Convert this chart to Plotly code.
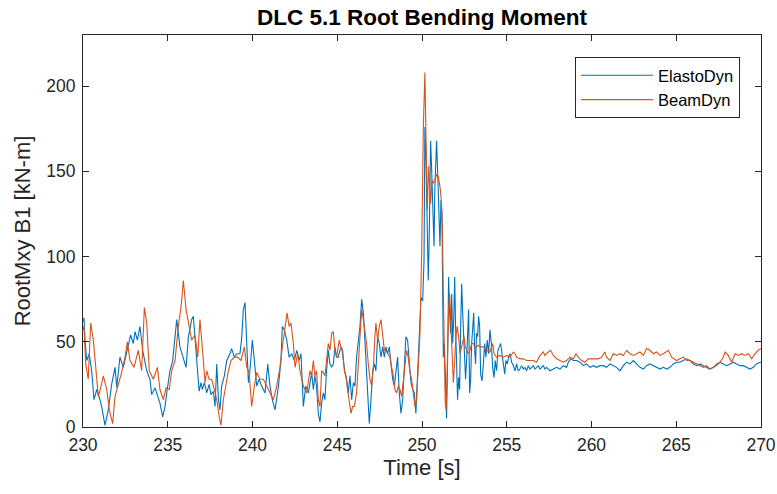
import plotly.graph_objects as go

# ElastoDyn (blue) series
time_elasto = [
    230.00, 230.06, 230.12, 230.22, 230.37, 230.51, 230.65, 230.81, 231.00, 231.10, 231.30, 231.49, 231.69, 231.89, 231.99,
    232.18, 232.38, 232.58, 232.81, 232.97, 233.07, 233.21, 233.36, 233.52, 233.76, 233.95, 234.05, 234.25, 234.54, 234.70,
    234.84, 234.94, 235.13, 235.29, 235.43, 235.53, 235.72, 235.92, 236.08, 236.22, 236.41, 236.51, 236.71,
    236.85, 236.96, 237.04, 237.16, 237.30, 237.44, 237.55, 237.69, 237.79, 237.89, 237.99, 238.08, 238.18, 238.34, 238.48,
    238.67, 238.77, 238.93, 239.07, 239.26, 239.36, 239.46, 239.56, 239.66, 239.76, 239.85, 239.99, 240.11, 240.25, 240.39,
    240.54, 240.74, 240.90, 241.03, 241.17, 241.33, 241.53, 241.68, 241.76, 241.88, 242.02, 242.16, 242.31, 242.47, 242.61,
    242.75, 242.86, 243.00, 243.14, 243.30,
    243.39, 243.49, 243.59, 243.68, 243.78, 243.88, 243.98, 244.08, 244.18, 244.27, 244.37, 244.47, 244.57, 244.67, 244.77,
    244.86, 244.96, 245.06, 245.16, 245.26, 245.36, 245.45, 245.55, 245.65, 245.75, 245.85, 245.95, 246.04, 246.14, 246.24,
    246.34, 246.44, 246.54, 246.63, 246.73, 246.83, 246.89, 246.99, 247.09, 247.19, 247.28, 247.38, 247.48, 247.58, 247.68,
    247.78, 247.87, 247.97, 248.07, 248.17, 248.27, 248.37, 248.46, 248.56, 248.66, 248.76, 248.86, 248.96, 249.05, 249.15,
    249.25, 249.35, 249.45, 249.55, 249.64, 249.74, 249.84, 249.94,
    250.04, 250.12, 250.17, 250.23, 250.31, 250.37, 250.43, 250.51, 250.57, 250.63, 250.71, 250.76, 250.86, 250.92, 251.00,
    251.06, 251.12, 251.18, 251.22, 251.26, 251.32, 251.37, 251.45, 251.51, 251.57, 251.63, 251.69, 251.75, 251.81, 251.87,
    251.93, 251.98, 252.04, 252.10, 252.16, 252.22, 252.28, 252.34, 252.40, 252.46, 252.52, 252.57, 252.63, 252.69, 252.75,
    252.81, 252.87, 252.93, 252.99, 253.05, 253.11, 253.16, 253.22, 253.28, 253.34, 253.40,
    253.46, 253.54, 253.62, 253.70, 253.77, 253.85, 253.93, 254.01, 254.09, 254.17, 254.25, 254.32, 254.40, 254.48, 254.56,
    254.64, 254.72, 254.80, 254.88, 254.95, 255.03, 255.11, 255.19, 255.29, 255.39, 255.49, 255.58, 255.68, 255.78, 255.88,
    255.98, 256.07, 256.17, 256.27, 256.37, 256.47, 256.57, 256.66, 256.76, 256.86, 256.96, 257.06, 257.16, 257.25, 257.35,
    257.45, 257.55, 257.75, 257.94, 258.14, 258.34, 258.53, 258.63, 258.77, 258.93, 259.12, 259.32, 259.52, 259.71, 259.91,
    260.11, 260.30, 260.50, 260.70, 260.89, 261.09, 261.29, 261.48, 261.68, 261.88, 262.07, 262.27, 262.47, 262.66, 262.86,
    263.06, 263.25, 263.45, 263.65, 263.84, 264.04, 264.24, 264.44, 264.63, 264.83, 265.02, 265.22, 265.42, 265.61, 265.81,
    266.01, 266.20, 266.40, 266.60, 266.79, 266.99, 267.19, 267.38, 267.58, 267.78, 267.97, 268.17, 268.37, 268.56, 268.76,
    268.96, 269.15, 269.35, 269.55, 269.74, 269.94, 270.00,
]
rootmxy_elasto = [
    62, 64, 51, 39, 43, 33, 16, 22, 16, 12, 1, 10, 25, 35, 23,
    41, 35, 44, 54, 49, 56, 51, 59, 45, 33, 28, 19, 23, 14, 6,
    12, 20, 33, 39, 51, 63, 47, 41, 35, 53, 63, 65, 37,
    21, 26, 22, 26, 20, 25, 19, 21, 12, 37, 16, 10, 24, 30, 39,
    43, 46, 41, 43, 43, 52, 69, 73, 49, 26, 33, 51, 39, 24, 28,
    24, 20, 37, 24, 16, 10, 24, 39, 59, 57, 51, 41, 43, 39, 45,
    39, 43, 12, 24, 20,
    26, 32, 22, 30, 24, 8, 3, 14, 20, 16, 33, 45, 37, 35, 37,
    47, 41, 41, 45, 47, 39, 32, 28, 20, 30, 16, 26, 24, 41, 49,
    59, 75, 67, 51, 33, 16, 2, 16, 33, 37, 33, 53, 49, 41, 47,
    41, 47, 43, 47, 37, 28, 24, 33, 41, 20, 8, 16, 32, 53, 51,
    35, 26, 22, 20, 8, 33, 53, 76,
    74, 98, 176, 160, 117, 86, 114, 168, 151, 125, 106, 141, 168, 151, 125,
    106, 133, 125, 78, 41, 49, 29, 5, 39, 88, 67, 55, 78, 49, 63,
    88, 59, 28, 16, 29, 22, 59, 84, 67, 55, 39, 28, 39, 53, 69,
    20, 28, 49, 61, 67, 45, 37, 55, 53, 65, 59,
    31, 27, 37, 49, 41, 51, 43, 57, 49, 35, 29, 39, 33, 45, 47,
    49, 43, 35, 31, 39, 37, 41, 43, 38, 36, 33, 37, 33, 34, 36,
    34, 35, 33, 36, 34, 35, 36, 34, 35, 36, 34, 35, 36, 34, 35,
    34, 33, 34, 35, 34, 36, 35, 38, 40, 39, 39, 38, 36, 37, 35,
    36, 35, 36, 36, 35, 37, 36, 35, 33, 36, 38, 37, 39, 37, 35,
    34, 36, 37, 36, 35, 34, 35, 34, 35, 37, 38, 38, 39, 40, 39,
    37, 36, 37, 36, 35, 34, 35, 36, 38, 37, 36, 37, 38, 37, 36,
    36, 35, 34, 35, 37, 38, 38,
]

# BeamDyn (orange) series
time_beam = [
    230.00, 230.06, 230.16, 230.31, 230.45, 230.61, 230.77, 230.90, 231.04, 231.20, 231.40, 231.55, 231.75, 231.89, 232.03,
    232.28, 232.48, 232.62, 232.77, 233.01, 233.26, 233.46, 233.62, 233.76, 233.91, 234.15, 234.39, 234.54, 234.74, 234.90,
    235.09, 235.23, 235.43, 235.62, 235.78, 235.92, 236.08, 236.22, 236.41,
    236.61, 236.77, 236.90, 237.00, 237.10, 237.20, 237.30, 237.44, 237.59, 237.75, 237.89, 238.03, 238.14, 238.28, 238.42,
    238.58, 238.73, 238.93, 239.13, 239.32, 239.52, 239.66, 239.80, 239.95, 240.11, 240.25, 240.44, 240.64, 240.84, 241.03,
    241.23, 241.43, 241.62, 241.76, 241.92, 242.04, 242.16, 242.27, 242.41, 242.51, 242.67, 242.80, 243.00, 243.20,
    243.39, 243.49, 243.59, 243.68, 243.78, 243.88, 243.98, 244.08, 244.18, 244.27, 244.37, 244.47, 244.57, 244.67, 244.77,
    244.86, 244.96, 245.12, 245.20, 245.32, 245.42, 245.51, 245.61, 245.71, 245.81, 245.91, 246.01, 246.14, 246.24, 246.34,
    246.44, 246.54, 246.63, 246.73, 246.83, 246.93, 247.03, 247.13, 247.22, 247.28, 247.38, 247.48, 247.58, 247.68, 247.78,
    247.87, 247.97, 248.11, 248.21, 248.31, 248.40, 248.50, 248.60, 248.70, 248.80, 248.90, 248.99, 249.09, 249.19, 249.29,
    249.39, 249.49, 249.58, 249.68, 249.78,
    249.88, 249.98, 250.08, 250.17, 250.23, 250.31, 250.39, 250.45, 250.51, 250.59, 250.67, 250.76, 250.86, 250.96, 251.06,
    251.14, 251.20, 251.26, 251.32, 251.37, 251.43, 251.49, 251.57, 251.63, 251.69, 251.77, 251.85, 251.93, 252.00, 252.08,
    252.16, 252.24, 252.32, 252.40, 252.48, 252.55, 252.63, 252.73, 252.83, 252.93, 253.03, 253.12, 253.22, 253.32, 253.40,
    253.62, 253.81, 254.01, 254.17, 254.25, 254.40, 254.60, 254.80, 254.99, 255.19, 255.39, 255.49, 255.58, 255.78, 255.98,
    256.17, 256.37, 256.57, 256.76, 256.96, 257.16, 257.25, 257.45, 257.59, 257.75, 257.94, 258.14, 258.34, 258.53, 258.73,
    258.93, 259.08, 259.22, 259.42, 259.61, 259.81, 260.01, 260.20, 260.40, 260.60, 260.79, 260.89, 261.09, 261.29, 261.48,
    261.68, 261.88, 262.07, 262.27, 262.47, 262.66, 262.86, 263.06, 263.25, 263.45, 263.65, 263.84, 264.04, 264.24, 264.53,
    264.73, 265.02, 265.22, 265.42, 265.61, 265.81, 266.01, 266.20, 266.40, 266.60, 266.79, 266.99, 267.19, 267.38, 267.58,
    267.78, 267.88, 268.07, 268.27, 268.47, 268.66, 268.86, 269.06, 269.25, 269.45, 269.65, 269.84, 270.00,
]
rootmxy_beam = [
    57, 59, 37, 28, 61, 51, 33, 18, 23, 30, 22, 10, 2, 18, 23,
    32, 41, 50, 39, 35, 45, 33, 70, 61, 33, 28, 35, 22, 16, 23,
    22, 33, 39, 59, 70, 86, 69, 61, 51,
    54, 41, 63, 53, 39, 26, 33, 28, 28, 22, 16, 6, 1, 16, 24,
    33, 39, 41, 41, 39, 47, 35, 32, 12, 24, 32, 28, 28, 24, 20,
    16, 24, 35, 47, 59, 67, 59, 61, 49, 35, 43, 33, 24, 20,
    33, 30, 39, 30, 33, 16, 12, 33, 32, 30, 39, 49, 45, 55, 56,
    45, 41, 51, 47, 45, 33, 30, 22, 14, 8, 12, 12, 20, 35, 53,
    69, 63, 57, 49, 37, 28, 24, 35, 53, 61, 51, 59, 63, 53, 45,
    45, 43, 41, 35, 30, 22, 20, 24, 22, 18, 28, 39, 45, 41, 32,
    28, 20, 12, 16, 33,
    55, 102, 176, 208, 176, 127, 153, 141, 131, 145, 143, 145, 148, 147, 141,
    133, 117, 78, 39, 14, 10, 39, 69, 78, 63, 39, 26, 39, 53, 59,
    53, 43, 47, 51, 53, 47, 45, 43, 45, 49, 49, 47, 47, 48, 47,
    47, 45, 44, 49, 43, 41, 42, 41, 42, 41, 44, 43, 41, 40, 40,
    39, 39, 39, 38, 42, 44, 42, 44, 45, 42, 40, 39, 38, 39, 41,
    40, 43, 41, 39, 38, 40, 40, 40, 40, 41, 44, 41, 39, 43, 42,
    43, 42, 45, 43, 42, 43, 44, 42, 46, 45, 43, 44, 42, 43, 45,
    41, 39, 40, 41, 39, 39, 38, 37, 36, 35, 36, 34, 35, 37, 38,
    41, 44, 42, 38, 43, 42, 43, 42, 43, 40, 43, 45, 46,
]

series_names = ["ElastoDyn", "BeamDyn"]
x_ticks = [230, 235, 240, 245, 250, 255, 260, 265, 270]
y_ticks = [0, 50, 100, 150, 200]

BLUE = "#0072BD"
ORANGE = "#D95319"
AXC = "#262626"
FONT = "Liberation Sans, Arial, Helvetica, sans-serif"

fig = go.Figure()
fig.add_trace(go.Scatter(x=time_elasto, y=rootmxy_elasto, mode="lines", name=series_names[0],
                         line=dict(color=BLUE, width=1.1)))
fig.add_trace(go.Scatter(x=time_beam, y=rootmxy_beam, mode="lines", name=series_names[1],
                         line=dict(color=ORANGE, width=1.1)))

axis_common = dict(
    showline=True, linecolor=AXC, linewidth=1, mirror="ticks",
    ticks="inside", ticklen=6, tickcolor=AXC, tickwidth=1,
    showgrid=False, zeroline=False, automargin=False,
    tickfont=dict(family=FONT, size=17.5, color=AXC),
)

fig.update_layout(
    width=777, height=494,
    paper_bgcolor="white", plot_bgcolor="white",
    margin=dict(l=83, r=16, t=35, b=67),
    title=dict(text="<b>DLC 5.1 Root Bending Moment</b>", x=0.5432, xanchor="center",
               y=0.965, yanchor="middle", font=dict(family=FONT, size=22.5, color="black")),
    xaxis=dict(range=[230, 270], tickvals=x_ticks, ticktext=[str(v) for v in x_ticks],
               ticklabelstandoff=2,
               title=dict(text="Time [s]", font=dict(family=FONT, size=22, color=AXC), standoff=3),
               **axis_common),
    yaxis=dict(range=[0, 230], tickvals=y_ticks, ticktext=[str(v) for v in y_ticks],
               ticklabelstandoff=3,
               title=dict(text="RootMxy B1 [kN-m]", font=dict(family=FONT, size=22, color=AXC), standoff=9),
               **axis_common),
    legend=dict(x=0.969, xanchor="right", y=0.944, yanchor="top",
                bordercolor=AXC, borderwidth=1, bgcolor="white",
                font=dict(family=FONT, size=16.5, color="black"),
                itemwidth=72, tracegroupgap=0),
    showlegend=True,
)

fig.write_html("out.html")
